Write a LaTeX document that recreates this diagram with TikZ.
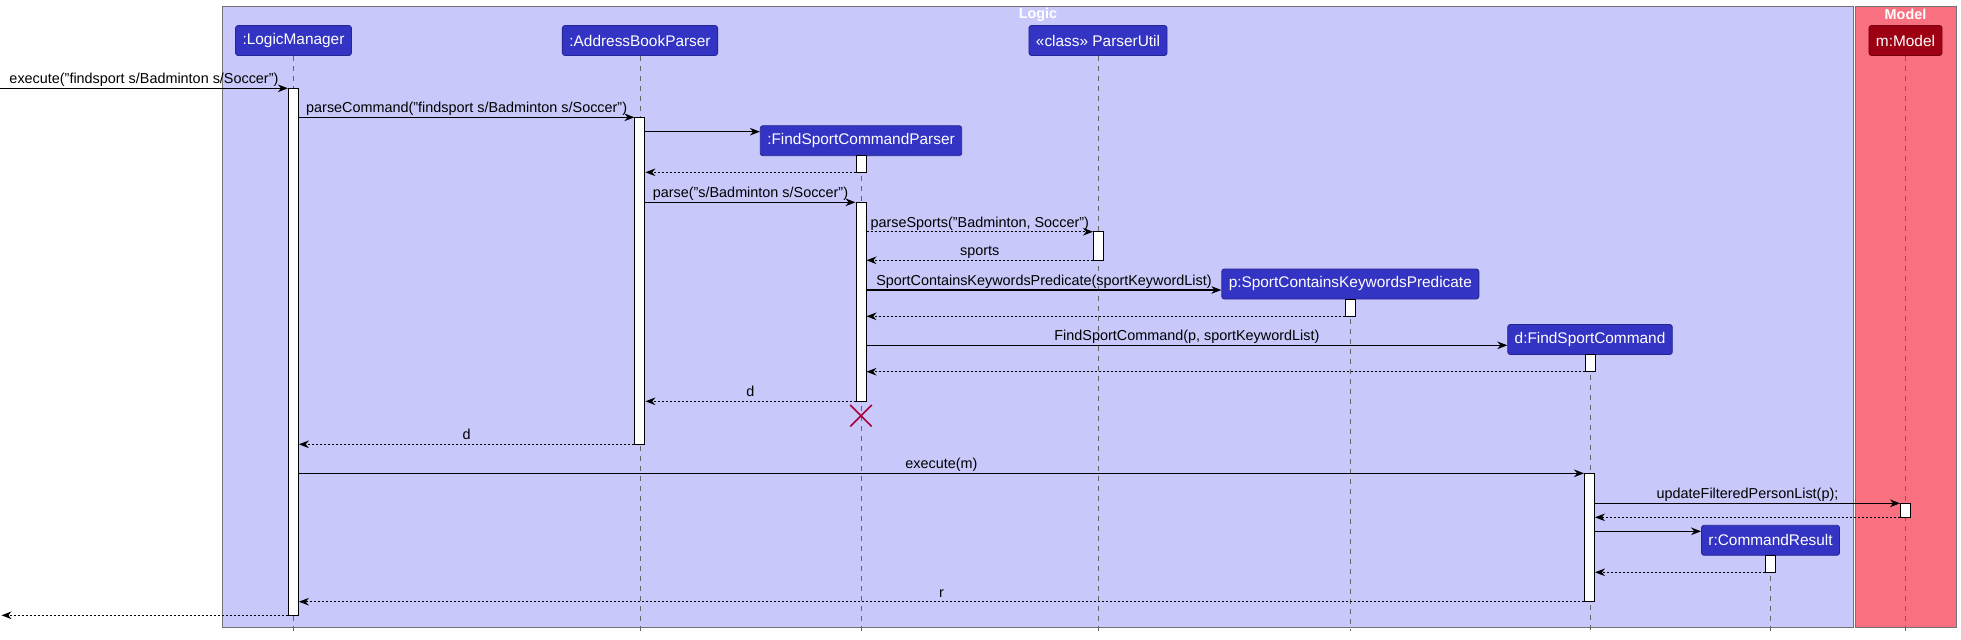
\documentclass[tikz,border=0pt]{standalone}
\usepackage{fontspec}
\setmainfont{Liberation Sans}
\usetikzlibrary{arrows.meta,shapes.misc}
\definecolor{lgc}{HTML}{3333C4}
\definecolor{lgt}{HTML}{C8C8FA}
\definecolor{mdc}{HTML}{9D0012}
\definecolor{mdt}{HTML}{F97181}
\definecolor{xred}{HTML}{A80036}
\newcommand{\actbar}[4]{\node[act,minimum height={(#4-#3)*0.5pt}] (#1) at (#2,{(#3+#4)/2}) {};}
\tikzset{
  part/.style={draw=lgc!75!black,fill=lgc,text=white,rounded corners=1.3pt,minimum height=15pt,inner xsep=3.5pt,inner ysep=0pt,font=\fontsize{7.7}{9}\selectfont},
  mpart/.style={part,fill=mdc,draw=mdc!75!black},
  grp/.style={draw=black!55,line width=0.5pt},
  gtitle/.style={text=white,font=\fontsize{7.2}{8}\selectfont\bfseries,inner sep=0pt},
  life/.style={draw=black!60,line width=0.4pt,dash pattern=on 2.5pt off 2.5pt},
  act/.style={draw,fill=white,line width=0.5pt,minimum width=5pt,inner sep=0pt},
  msg/.style={-{Stealth[length=5pt,width=3.8pt,inset=1.6pt]},line width=0.55pt},
  ret/.style={msg,dash pattern=on 1pt off 1pt},
  lbl/.style={anchor=base,inner sep=0pt,yshift=2.2pt,font=\fontsize{7.2}{8}\selectfont},
}
\begin{document}
\begin{tikzpicture}[x=0.5pt,y=-0.5pt]
\useasboundingbox (0,0) rectangle (1961,639);
% ---- groups ----
\filldraw[grp,fill=lgt] (222.5,6) rectangle (1853.5,627.3);
\filldraw[grp,fill=mdt] (1855.5,6) rectangle (1956,627.3);
\node[gtitle] (logicT) at (1038,14.7) {Logic};
\node[gtitle] (modelT) at (1905.5,14.7) {Model};

% ---- participants ----
\node[part] (lm) at (293.5,40.5) {:LogicManager};
\node[part] (abp) at (640,40.5) {:AddressBookParser};
\node[part] (pu) at (1098,40.5) {«class» ParserUtil};
\node[part] (fscp) at (861,140.7) {:FindSportCommandParser};
\node[part] (sckp) at (1350.3,284) {p:SportContainsKeywordsPredicate};
\node[part] (fsc) at (1590,339.5) {d:FindSportCommand};
\node[part] (cr) at (1770.5,540.3) {r:CommandResult};
\node[mpart] (m) at (1905.5,40.5) {m:Model};
\foreach \p in {lm,abp,pu,fscp,sckp,fsc,cr,m}{\draw[life] (\p.south) -- (\p.south |- 0,631.3);}

% ---- activations ----
\actbar{lmA}{293.4}{88.3}{615.3}
\actbar{abpA}{639.9}{117.3}{444.3}
\actbar{fscpA}{861}{155.7}{172.3}
\actbar{fscpB}{861}{202.3}{401.3}
\actbar{puA}{1098.5}{231.7}{260.3}
\actbar{sckpA}{1350.3}{299.7}{316.3}
\actbar{fscA}{1590}{354.7}{371.7}
\actbar{fscB}{1589.5}{473.3}{601.7}
\actbar{mA}{1905.5}{503.3}{517.3}
\actbar{crA}{1770.5}{555.3}{572.3}
\node[cross out,draw=xred,line width=0.75pt,minimum size=10pt,inner sep=0pt] (fscpX) at (861,415.7) {};
\coordinate (in) at (0,88.3);
\coordinate (out) at (1.5,615.3);

% ---- messages ----
\draw[msg] (in) -- node[lbl]{execute("findsport s/Badminton s/Soccer")} (lmA.west |- in);
\draw[msg] (lmA.east |- 0,117.3) -- node[lbl]{parseCommand("findsport s/Badminton s/Soccer")} (abpA.west |- 0,117.3);
\draw[msg] (abpA.east |- 0,131.7) -- (fscp.west |- 0,131.7);
\draw[ret] (fscpA.west |- 0,172.3) -- (abpA.east |- 0,172.3);
\draw[msg] (abpA.east |- 0,202.3) -- node[lbl]{parse("s/Badminton s/Soccer")} (fscpB.west |- 0,202.3);
\draw[ret] (fscpB.east |- 0,231.7) -- node[lbl]{parseSports("Badminton, Soccer")} (puA.west |- 0,231.7);
\draw[ret] (puA.west |- 0,260.3) -- node[lbl]{sports} (fscpB.east |- 0,260.3);
\draw[msg] (fscpB.east |- 0,290) -- node[lbl]{SportContainsKeywordsPredicate(sportKeywordList)} (sckp.west |- 0,290);
\draw[ret] (sckpA.west |- 0,316.3) -- (fscpB.east |- 0,316.3);
\draw[msg] (fscpB.east |- 0,345.3) -- node[lbl]{FindSportCommand(p, sportKeywordList)} (fsc.west |- 0,345.3);
\draw[ret] (fscA.west |- 0,371.7) -- (fscpB.east |- 0,371.7);
\draw[ret] (fscpB.west |- 0,401.3) -- node[lbl]{d} (abpA.east |- 0,401.3);
\draw[ret] (abpA.west |- 0,444.3) -- node[lbl]{d} (lmA.east |- 0,444.3);
\draw[msg] (lmA.east |- 0,473.3) -- node[lbl]{execute(m)} (fscB.west |- 0,473.3);
\draw[msg] (fscB.east |- 0,503.3) -- node[lbl]{updateFilteredPersonList(p);} (mA.west |- 0,503.3);
\draw[ret] (mA.west |- 0,517.3) -- (fscB.east |- 0,517.3);
\draw[msg] (fscB.east |- 0,531.3) -- (cr.west |- 0,531.3);
\draw[ret] (crA.west |- 0,572.3) -- (fscB.east |- 0,572.3);
\draw[ret] (fscB.west |- 0,601.7) -- node[lbl]{r} (lmA.east |- 0,601.7);
\draw[ret] (lmA.west |- out) -- (out);
\end{tikzpicture}
\end{document}
